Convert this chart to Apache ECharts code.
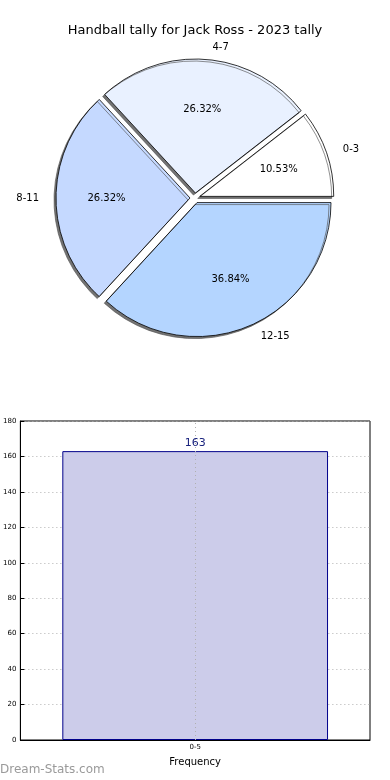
<!DOCTYPE html>
<html><head><meta charset="utf-8">
<script src="https://cdn.jsdelivr.net/npm/echarts@6/dist/echarts.min.js"></script>
<style>html,body{margin:0;padding:0;background:#fff}#c{width:390px;height:780px}</style>
</head><body><div id="c"></div>
<script>
var pieCategories = ['0-3', '4-7', '8-11', '12-15'];
var pieValues = [2, 5, 5, 7];
var pieColors = ['#ffffff', '#e9f1ff', '#c5d9ff', '#b4d5ff'];
var barCategories = ['0-5'];
var barValues = [163];
var yTicks = [0, 20, 40, 60, 80, 100, 120, 140, 160, 180];

var F = 'DejaVu Sans';
var pieTotal = pieValues.reduce(function (a, b) { return a + b; }, 0);
var pieData = pieCategories.map(function (n, i) {
  return { name: n, value: pieValues[i], selected: true, itemStyle: { color: pieColors[i] } };
});
var pieLabelData = pieCategories.map(function (n, i) {
  return { name: n, value: pieValues[i], selected: true };
});

var chart = echarts.init(document.getElementById('c'), null, { renderer: 'canvas' });
chart.setOption({
  animation: false,
  title: { text: 'Handball tally for Jack Ross - 2023 tally', left: 'center', top: 19,
    textStyle: { fontFamily: F, fontSize: 13, fontWeight: 'normal', color: '#000' } },
  graphic: [{ type: 'text', left: 0, top: 764, style: { text: 'Dream-Stats.com', fill: '#9a9a9a',
    font: '12px "DejaVu Sans"' } }],
  grid: { left: 19, top: 421, width: 351, height: 319, show: true, borderColor: '#000', borderWidth: 1 },
  xAxis: { type: 'category', data: barCategories, name: 'Frequency', nameLocation: 'middle', nameGap: 17,
    nameTextStyle: { fontFamily: F, fontSize: 10, color: '#000' },
    axisLine: { lineStyle: { color: '#000' } }, axisTick: { show: false },
    axisLabel: { fontFamily: F, fontSize: 7, color: '#000', margin: 4 },
    splitLine: { show: false } },
  yAxis: { type: 'value', min: 0, max: 180, interval: 20,
    axisLine: { show: true, lineStyle: { color: '#000' } }, axisTick: { show: true, inside: true, length: 4, lineStyle: { color: '#000' } },
    axisLabel: { fontFamily: F, fontSize: 7, color: '#000', margin: 4 },
    splitLine: { show: true, lineStyle: { color: '#b0b0b0', type: [1, 3] } } },
  series: [
    { type: 'pie', center: [195, 198], radius: 134, startAngle: 0, clockwise: false,
      selectedMode: 'multiple', selectedOffset: 5, silent: true,
      data: pieData,
      itemStyle: { borderColor: '#000', borderWidth: 0.8, shadowColor: 'rgba(80,80,80,0.8)', shadowBlur: 0, shadowOffsetX: -2, shadowOffsetY: 2 },
      label: { show: true, position: 'outside', formatter: '{b}', fontFamily: F, fontSize: 10, color: '#000' },
      labelLine: { show: false, length: 12, length2: 0 }, emphasis: { disabled: true } },
    { type: 'pie', center: [195, 198], radius: 161, startAngle: 0, clockwise: false,
      selectedMode: 'multiple', selectedOffset: 5, silent: true, z: 5,
      data: pieLabelData,
      itemStyle: { color: 'rgba(0,0,0,0)', borderWidth: 0 },
      label: { show: true, position: 'inner', fontFamily: F, fontSize: 10, color: '#000',
        formatter: function (p) { return (p.value / pieTotal * 100).toFixed(2) + '%'; } },
      labelLine: { show: false }, emphasis: { disabled: true } },
    { type: 'bar', data: barValues, barWidth: '76%',
      itemStyle: { color: '#ccccea', borderColor: '#00008b', borderWidth: 1 },
      label: { show: true, position: 'top', fontFamily: F, fontSize: 11, color: '#1a237e', distance: 2 },
      markLine: { silent: true, symbol: 'none', label: { show: false },
        lineStyle: { color: '#b0b0b0', type: [1, 3], width: 1 },
        data: [{ xAxis: barCategories[0] }] } }
  ]
});
</script></body></html>
